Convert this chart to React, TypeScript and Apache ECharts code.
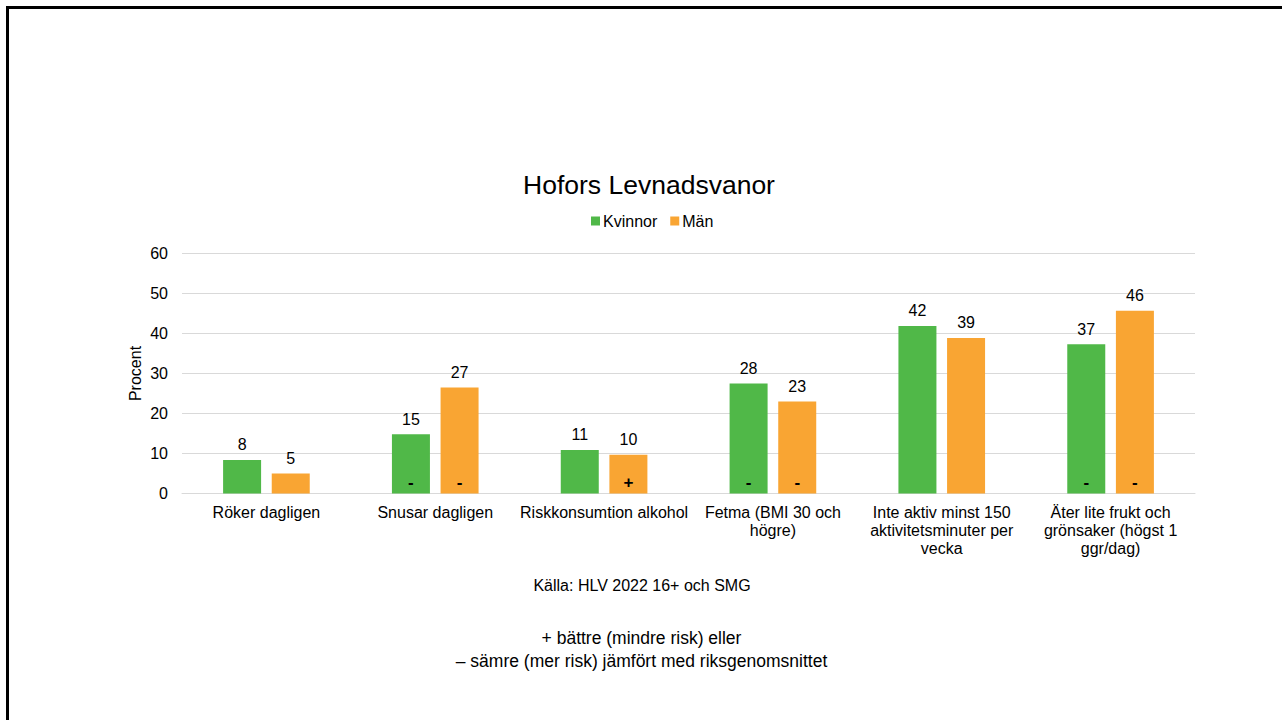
import React, { useEffect, useRef } from "react";
import * as echarts from "echarts";

const title = "Hofors Levnadsvanor";
const categories = [
  "Röker dagligen",
  "Snusar dagligen",
  "Riskkonsumtion alkohol",
  "Fetma (BMI 30 och\nhögre)",
  "Inte aktiv minst 150\naktivitetsminuter per\nvecka",
  "Äter lite frukt och\ngrönsaker (högst 1\nggr/dag)",
];
const kvinnor = [8.4, 14.8, 10.9, 27.5, 41.9, 37.3];
const man = [5.0, 26.5, 9.7, 23.0, 38.9, 45.7];
const kvinnorMarks = ["", "-", "", "-", "", "-"];
const manMarks = ["", "-", "+", "-", "", "-"];
const yTicks = [0, 10, 20, 30, 40, 50, 60];
const sourceText = "Källa: HLV 2022 16+ och SMG";
const noteLines = [
  "+ bättre (mindre risk) eller",
  "– sämre (mer risk) jämfört med riksgenomsnittet",
];

const GREEN = "#50B848";
const ORANGE = "#F9A533";
const FONT = "'Liberation Sans', Arial, sans-serif";

export default function App() {
  const ref = useRef<HTMLDivElement>(null);
  useEffect(() => {
    if (!ref.current) return;
    const chart = echarts.init(ref.current, undefined, { renderer: "svg" });
    const valueLabel = {
      show: true,
      position: "top",
      distance: 7,
      color: "#000",
      fontSize: 16,
      fontFamily: FONT,
      formatter: (p: any) => String(Math.round(p.value)),
    };
    const markLabel = (marks: string[]) => ({
      show: true,
      position: "insideBottom",
      distance: 3,
      color: "#000",
      fontSize: 17,
      fontWeight: "bold",
      fontFamily: FONT,
      formatter: (p: any) => marks[p.dataIndex],
    });
    chart.setOption({
      animation: false,
      backgroundColor: "#fff",
      textStyle: { fontFamily: FONT },
      title: {
        text: title,
        left: 649,
        textAlign: "center",
        top: 171,
        padding: 0,
        textStyle: { fontSize: 26.5, fontWeight: "normal", color: "#000", fontFamily: FONT },
      },
      legend: {
        data: ["Kvinnor", "Män"],
        left: 591,
        top: 213,
        padding: 0,
        itemWidth: 9,
        itemHeight: 9,
        itemGap: 13,
        icon: "rect",
        textStyle: { fontSize: 16, color: "#000", fontFamily: FONT, padding: [0, 0, 0, -2] },
      },
      grid: { left: 182, right: 87, top: 253.5, bottom: 226.5, containLabel: false },
      xAxis: [
        {
          type: "category",
          data: categories,
          axisLine: { show: true, lineStyle: { color: "#d9d9d9", width: 1 } },
          axisTick: { show: false },
          axisLabel: {
            color: "#000",
            fontSize: 16,
            fontFamily: FONT,
            lineHeight: 18,
            margin: 10,
            interval: 0,
          },
        },
        {
          type: "category",
          data: categories,
          show: false,
        },
      ],
      yAxis: {
        type: "value",
        min: yTicks[0],
        max: yTicks[yTicks.length - 1],
        interval: 10,
        name: "Procent",
        nameLocation: "middle",
        nameGap: 39,
        nameMoveOverlap: false,
        nameTextStyle: { fontSize: 16, color: "#000", fontFamily: FONT },
        axisLine: { show: false },
        axisTick: { show: false },
        axisLabel: { color: "#000", fontSize: 16, fontFamily: FONT, margin: 14 },
        splitLine: { lineStyle: { color: "#d9d9d9", width: 1 } },
      },
      series: [
        {
          name: "Kvinnor",
          type: "bar",
          data: kvinnor,
          barWidth: 38,
          barGap: "28%",
          itemStyle: { color: GREEN },
          label: valueLabel,
        },
        {
          name: "Män",
          type: "bar",
          data: man,
          barWidth: 38,
          barGap: "28%",
          itemStyle: { color: ORANGE },
          label: valueLabel,
        },
        {
          name: "kvMarks",
          type: "bar",
          xAxisIndex: 1,
          data: kvinnor,
          barWidth: 38,
          barGap: "28%",
          silent: true,
          itemStyle: { color: "rgba(0,0,0,0)" },
          label: markLabel(kvinnorMarks),
        },
        {
          name: "manMarks",
          type: "bar",
          xAxisIndex: 1,
          data: man,
          barWidth: 38,
          barGap: "28%",
          silent: true,
          itemStyle: { color: "rgba(0,0,0,0)" },
          label: markLabel(manMarks),
        },
      ],
      graphic: [
        {
          type: "rect",
          shape: { x: 7.5, y: 7.5, width: 1400, height: 800 },
          style: { fill: "none", stroke: "#000", lineWidth: 3 },
          silent: true,
        },
        {
          type: "text",
          x: 642,
          y: 585,
          style: {
            text: sourceText,
            fontSize: 16,
            fontFamily: FONT,
            fill: "#000",
            align: "center",
            verticalAlign: "middle",
          },
        },
        {
          type: "text",
          x: 641.5,
          y: 638,
          style: {
            text: noteLines[0],
            fontSize: 17.5,
            fontFamily: FONT,
            fill: "#000",
            align: "center",
            verticalAlign: "middle",
          },
        },
        {
          type: "text",
          x: 641.5,
          y: 661,
          style: {
            text: noteLines[1],
            fontSize: 17.5,
            fontFamily: FONT,
            fill: "#000",
            align: "center",
            verticalAlign: "middle",
          },
        },
      ],
    });
    return () => chart.dispose();
  }, []);
  return (
    <div
      ref={ref}
      style={{ position: "absolute", left: 0, top: 0, width: 1282, height: 720 }}
    />
  );
}
